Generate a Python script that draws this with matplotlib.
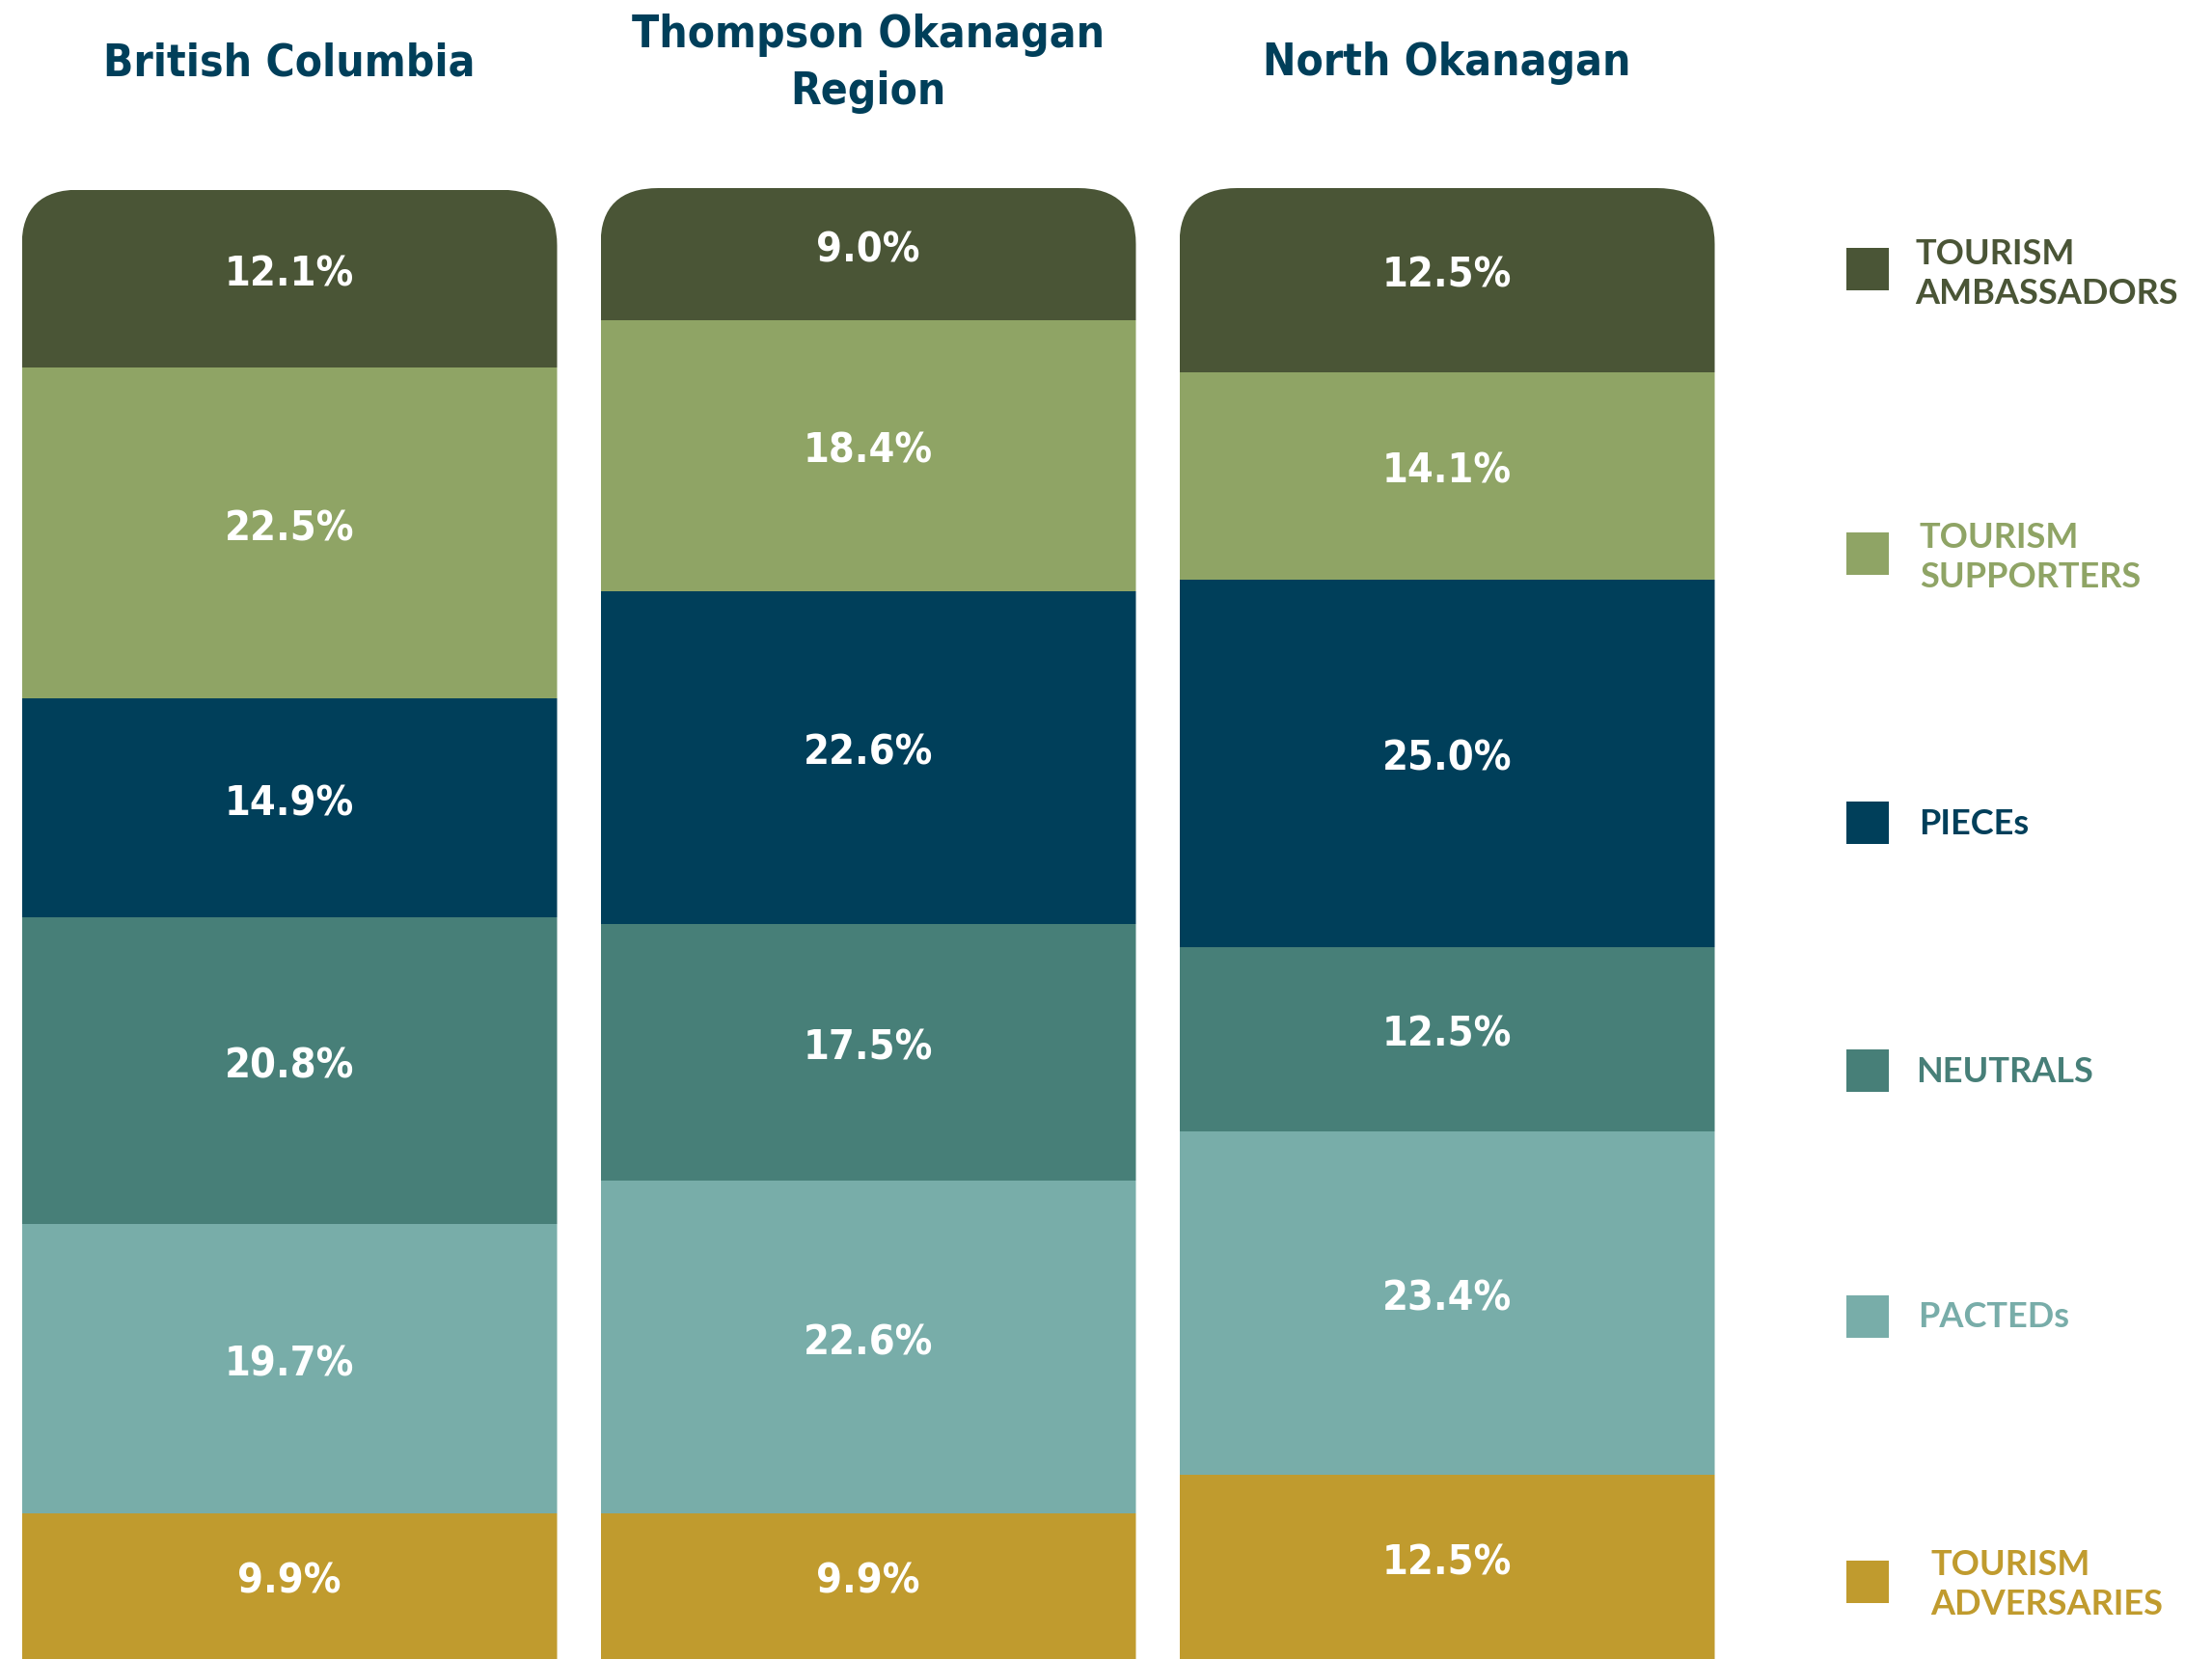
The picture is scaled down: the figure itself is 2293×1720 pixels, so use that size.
import matplotlib.pyplot as plt
from matplotlib.patches import FancyBboxPatch, Rectangle

regions = ['British Columbia', 'Thompson Okanagan\nRegion', 'North Okanagan']
segments = ['TOURISM\nADVERSARIES', 'PACTEDs', 'NEUTRALS', 'PIECEs',
            'TOURISM\nSUPPORTERS', 'TOURISM\nAMBASSADORS']
colors = ['#c09b2e', '#78ada9', '#477f78', '#003f5a', '#8fa465', '#4a5536']

# shares per segment (bottom to top), one value per region
adversaries = [9.9, 9.9, 12.5]
pacteds = [19.7, 22.6, 23.4]
neutrals = [20.8, 17.5, 12.5]
pieces = [14.9, 22.6, 25.0]
supporters = [22.5, 18.4, 14.1]
ambassadors = [12.1, 9.0, 12.5]
values = [adversaries, pacteds, neutrals, pieces, supporters, ambassadors]

narrow = ['DejaVu Sans Condensed', 'Liberation Sans Narrow', 'DejaVu Sans']
title_color = '#003f5a'

fig = plt.figure(figsize=(22.93, 17.2), dpi=100)
ax = fig.add_axes([0, 0, 1800 / 2293, 1525 / 1720])
ax.set_xlim(-0.5, 2.5)
ax.set_ylim(0, 100)
ax.axis('off')

width = 555 / 600
x = range(len(regions))

# rounded clip for each column (only top corners visible)
r = 0.1
aspect = (58 / 15.25) / r
clips = []
for i in x:
    clip = FancyBboxPatch((i - width / 2, -20), width, 120,
                          boxstyle=f'round,pad=0,rounding_size={r}',
                          mutation_aspect=aspect, transform=ax.transData,
                          facecolor='none', edgecolor='none')
    clips.append(clip)

bottoms = [0, 0, 0]
for seg, col, vals in zip(segments, colors, values):
    bars = ax.bar(x, vals, width=width, bottom=bottoms, color=col, linewidth=0)
    for i, b in enumerate(bars):
        b.set_clip_path(clips[i])
        ax.text(i, bottoms[i] + vals[i] / 2 + 0.3, f'{vals[i]:.1f}%', ha='center', va='center',
                color='white', fontsize=31, fontweight='bold', family=narrow,
                fontstretch='condensed')
    bottoms = [b + v for b, v in zip(bottoms, vals)]

# set each clip top to the stacked total
for i, clip in enumerate(clips):
    clip.set_bounds(i - width / 2, -20, width, bottoms[i] + 20)

# column titles
for i, name in enumerate(regions):
    fig.text((300 + 600 * i) / 2293, 1 - 66 / 1720, name, ha='center', va='center',
             color=title_color, fontsize=33, fontweight='bold', family=narrow,
             fontstretch='condensed', linespacing=1.4)

# legend, top to bottom
box_y = [279, 574, 853, 1110, 1365, 1640]
leg_y = [284, 578, 854, 1112, 1366, 1643]
leg_x = [1985, 1990, 1989, 1986, 1988, 2001]
for seg, col, by, yy, xx in zip(segments[::-1], colors[::-1], box_y, leg_y, leg_x):
    fig.add_artist(Rectangle((1914 / 2293, 1 - (by + 22) / 1720), 44 / 2293, 44 / 1720,
                             transform=fig.transFigure, facecolor=col, edgecolor='none'))
    fig.text(xx / 2293, 1 - yy / 1720, seg, ha='left', va='center', color=col,
             fontsize=26, fontweight='bold', family=['Lato', 'DejaVu Sans'],
             linespacing=1.3)

fig.savefig('out.png', dpi=100)
